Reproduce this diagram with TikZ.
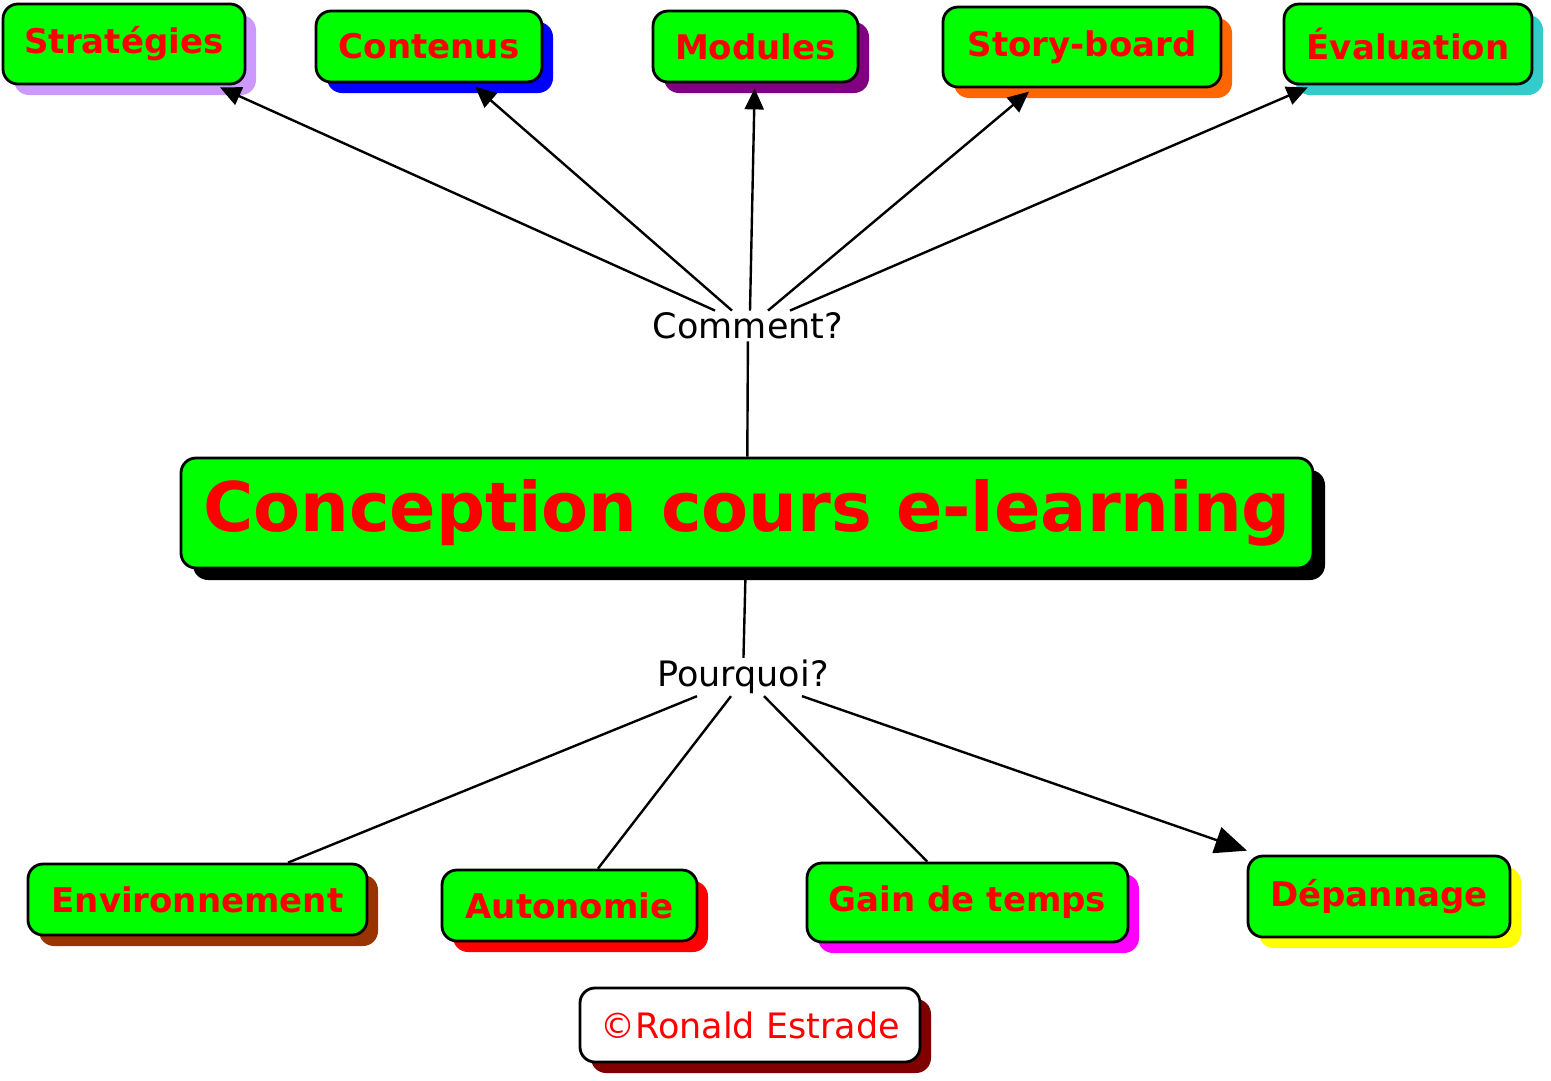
\documentclass[tikz,border=0pt]{standalone}
\usepackage{fontspec}
\setmainfont{DejaVu Sans}
\usetikzlibrary{arrows.meta,shadows}

\definecolor{boxgreen}{HTML}{00FF00}
\definecolor{boxred}{HTML}{FF0000}
\definecolor{shlavender}{HTML}{CC99FF}
\definecolor{shblue}{HTML}{0000FF}
\definecolor{shpurple}{HTML}{800080}
\definecolor{shorange}{HTML}{FF6600}
\definecolor{shcyan}{HTML}{33CCCC}
\definecolor{shbrown}{HTML}{993300}
\definecolor{shmagenta}{HTML}{FF00FF}
\definecolor{shyellow}{HTML}{FFFF00}
\definecolor{shdarkred}{HTML}{800000}

\begin{document}
\begin{tikzpicture}[x=1pt, y=-1pt,
        main_node/.style={rectangle, rounded corners=15pt, draw=black, line width=2.8pt, fill=boxgreen, text=boxred, font=\bfseries\fontsize{68.5}{80}\selectfont, minimum width=1132pt, minimum height=110pt, inner sep=0pt, drop shadow={shadow xshift=12pt, shadow yshift=-12pt, fill=black, opacity=1}},
        branch_node/.style={rectangle, rounded corners=15pt, draw=black, line width=2.8pt, fill=boxgreen, text=boxred, font=\bfseries\fontsize{34}{40}\selectfont, inner sep=0pt, drop shadow={shadow xshift=11pt, shadow yshift=-11pt, fill=#1, opacity=1}},
        credit_node/.style={rectangle, rounded corners=15pt, draw=black, line width=2.8pt, fill=white, text=boxred, font=\fontsize{35}{40}\selectfont, inner sep=0pt, minimum width=340pt, minimum height=74pt, drop shadow={shadow xshift=11pt, shadow yshift=-11pt, fill=shdarkred, opacity=1}},
        label_node/.style={fill=white, inner sep=2pt, font=\fontsize{35}{40}\selectfont},
        link/.style={black, line width=2.4pt},
        arrow_small/.style={-{Triangle[length=21pt, width=19pt]}, shorten >=5pt},
        arrow_big/.style={-{Triangle[length=32pt, width=27pt]}, shorten >=12pt}
        ]
            \useasboundingbox (0,0) rectangle (1551,1080);

            % centre
            \node[main_node]    (main)     at (747,513)     {Conception cours e-learning};
            \node[label_node]   (how)      at (748,326)     {Comment?};
            \node[label_node]   (why)      at (743,677)     {Pourquoi?};
            % comment
            \node[branch_node=shlavender, minimum width=242pt, minimum height=80pt]  (how_1) at (124,44)    {Stratégies};
            \node[branch_node=shblue,     minimum width=226pt, minimum height=71pt]  (how_2) at (429,46.5)  {Contenus};
            \node[branch_node=shpurple,   minimum width=205pt, minimum height=71pt]  (how_3) at (755.5,46.5) {Modules};
            \node[branch_node=shorange,   minimum width=278pt, minimum height=80pt]  (how_4) at (1082,47)   {Story-board};
            \node[branch_node=shcyan,     minimum width=248pt, minimum height=80pt]  (how_5) at (1408,44)   {Évaluation};
            % pourquoi
            \node[branch_node=shbrown,    minimum width=339pt, minimum height=71pt]  (why_1) at (197.5,899.5) {Environnement};
            \node[branch_node=boxred,     minimum width=255pt, minimum height=71pt]  (why_2) at (569.5,905.5) {Autonomie};
            \node[branch_node=shmagenta,  minimum width=321pt, minimum height=79pt]  (why_3) at (967.5,902.5) {Gain de temps};
            \node[branch_node=shyellow,   minimum width=262pt, minimum height=81pt]  (why_4) at (1379,896.5)  {Dépannage};
            % credit
            \node[credit_node] (credit) at (750,1025) {©Ronald Estrade};

            % Lines
            \draw[link] (main) -- (how);
            \draw[link] (main) -- (why);
            \draw[link, arrow_small] ([xshift=-33pt]how.north) -- (how_1);
            \draw[link, arrow_small] ([xshift=-16pt]how.north) -- (how_2);
            \draw[link, arrow_small] ([xshift=2pt]how.north)   -- (how_3);
            \draw[link, arrow_small] ([xshift=20pt]how.north)  -- (how_4);
            \draw[link, arrow_small] ([xshift=42pt]how.north)  -- (how_5);
            \draw[link] ([xshift=-46pt]why.south) -- (why_1);
            \draw[link] ([xshift=-12pt]why.south) -- (why_2);
            \draw[link] ([xshift=21pt]why.south)  -- (why_3);
            \draw[link, arrow_big] ([xshift=59pt]why.south) -- (why_4);
        \end{tikzpicture}
\end{document}
